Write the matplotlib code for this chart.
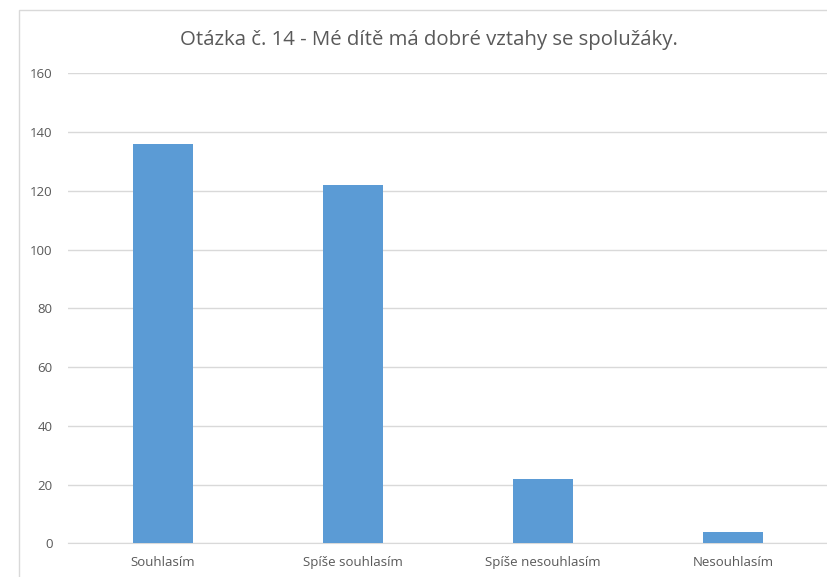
import matplotlib.pyplot as plt
from matplotlib.patches import Rectangle
import numpy as np

categories = ["Souhlasím", "Spíše souhlasím", "Spíše nesouhlasím", "Nesouhlasím"]
values = [136, 122, 22, 4]
yticks = [0, 20, 40, 60, 80, 100, 120, 140, 160]
title = "Otázka č. 14 - Mé dítě má dobré vztahy se spolužáky."

plt.rcParams['font.family'] = ['Open Sans', 'DejaVu Sans']

W, H = 828, 577
fig = plt.figure(figsize=(W / 100, H / 100), dpi=100)

# chart border (cut off on right and bottom)
fig.patches.append(Rectangle((19 / W, -0.1), 1.2, 1 - 10 / H + 0.1,
                             transform=fig.transFigure, fill=False,
                             edgecolor="#D9D9D9", linewidth=1.0))

ax = fig.add_axes([68 / W, (H - 543.3) / H, (W - 68) / W, (543.3 - 73.3) / H])
x = np.arange(len(categories))
ax.bar(x, values, width=0.316, color="#5B9BD5", zorder=3)
ax.set_xlim(-0.5, len(categories) - 0.5)
ax.set_ylim(0, 160)
ax.set_yticks(yticks)
ax.set_xticks(x)
ax.set_xticklabels(categories)
ax.grid(axis="y", color="#D9D9D9", linewidth=1.0, zorder=0)
for s in ["top", "right", "left"]:
    ax.spines[s].set_visible(False)
ax.spines["bottom"].set_color("#D9D9D9")
ax.tick_params(axis="both", length=0, labelsize=9.5, colors="#595959")
ax.tick_params(axis="y", pad=11)
ax.tick_params(axis="x", pad=9)

fig.text(429 / W, 1 - 40 / H, title, ha="center", va="center",
         fontsize=14.7, color="#595959")

fig.savefig("out.png", dpi=100)
